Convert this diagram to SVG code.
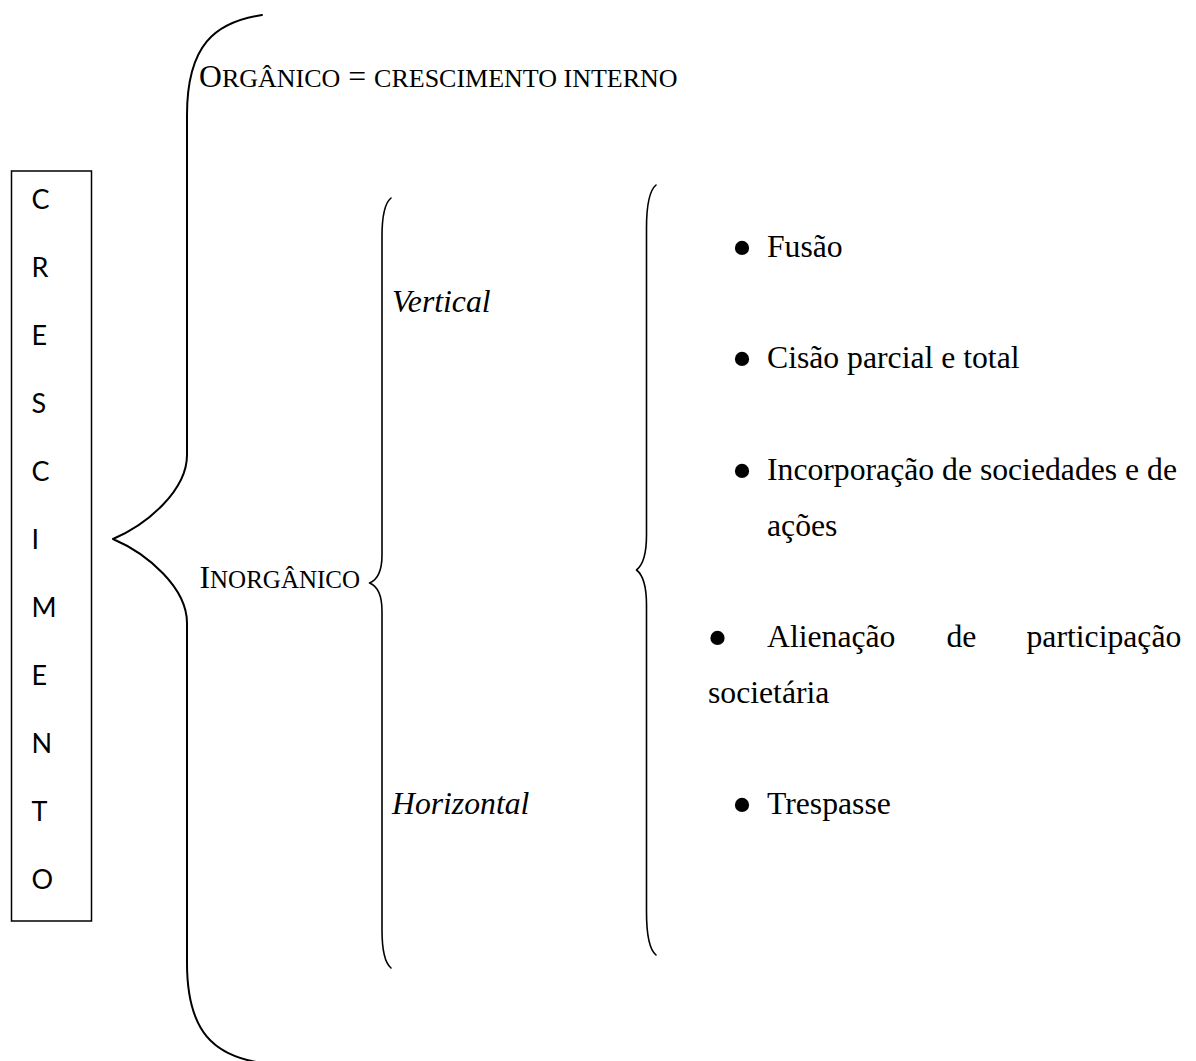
<svg xmlns="http://www.w3.org/2000/svg" width="1196" height="1061" viewBox="0 0 1196 1061">
<style>
.serif{font-family:"Liberation Serif","Times New Roman",serif;font-size:31.7px;fill:#000}
.sc{font-size:25px}
.sc1{font-size:26px}
.it{font-style:italic}
.sans{font-family:Lato,"Open Sans",sans-serif;font-size:27px;fill:#000}
.brace{fill:none;stroke:#000;stroke-linecap:round;stroke-linejoin:round}
.bul{font-family:"Liberation Serif",serif;font-size:60px;text-anchor:middle;fill:#000}
</style>
<rect width="1196" height="1061" fill="#fff"/>
<g id="crescimento">
<rect x="11.5" y="171" width="80" height="750" fill="none" stroke="#000" stroke-width="1.5"/>
<text class="sans" x="31.5" y="209">C</text>
<text class="sans" x="31.5" y="277">R</text>
<text class="sans" x="31.5" y="345">E</text>
<text class="sans" x="31.5" y="413">S</text>
<text class="sans" x="31.5" y="481">C</text>
<text class="sans" x="31.5" y="549">I</text>
<text class="sans" x="31.5" y="617">M</text>
<text class="sans" x="31.5" y="685">E</text>
<text class="sans" x="31.5" y="753">N</text>
<text class="sans" x="31.5" y="821">T</text>
<text class="sans" x="31.5" y="889">O</text>
</g>
<g id="connectors">
<path class="brace" stroke-width="2" d="M262 15 C215 22 187 45 187 115 L187 455 C187 490 148 524 113 539 C148 554 187 588 187 623 L187 963 C187 1033 215 1056 262 1063"/>
<path class="brace" stroke-width="1.6" d="M391 198 C385 203 382 215 382 236 L382 555 C382 572 377 580 369.5 583 C377 586 382 594 382 611 L382 930 C382 951 385 963 391 968"/>
<path class="brace" stroke-width="1.6" d="M656 185 C650 190 646.5 205 646.5 228 L646.5 535 C646.5 555 643 565 636.5 570 C643 575 646.5 585 646.5 605 L646.5 912 C646.5 935 650 950 656 955"/>
</g>
<g id="organico">
<text class="serif" x="199" y="87">O<tspan class="sc1">RGÂNICO</tspan> = <tspan class="sc1">CRESCIMENTO INTERNO</tspan></text>
</g>
<g id="inorganico">
<text class="serif" x="199.5" y="588">I<tspan class="sc">NORGÂNICO</tspan></text>
</g>
<g id="vertical">
<text class="serif it" x="392" y="312">Vertical</text>
</g>
<g id="horizontal">
<text class="serif it" x="392" y="814">Horizontal</text>
</g>
<g id="fusao">
<text class="bul" x="742" y="268">•</text>
<text class="serif" x="767" y="257">Fusão</text>
</g>
<g id="cisao">
<text class="bul" x="742" y="379">•</text>
<text class="serif" x="767" y="368">Cisão parcial e total</text>
</g>
<g id="incorporacao">
<text class="bul" x="742" y="491">•</text>
<text class="serif" x="767" y="480">Incorporação de sociedades e de</text>
<text class="serif" x="767" y="535.5">ações</text>
</g>
<g id="alienacao">
<text class="bul" x="717.5" y="658">•</text>
<text class="serif" x="767" y="647">Alienação</text>
<text class="serif" x="946.5" y="647">de</text>
<text class="serif" x="1026.5" y="647">participação</text>
<text class="serif" x="708" y="702.5">societária</text>
</g>
<g id="trespasse">
<text class="bul" x="742" y="825">•</text>
<text class="serif" x="767" y="814">Trespasse</text>
</g>
</svg>
